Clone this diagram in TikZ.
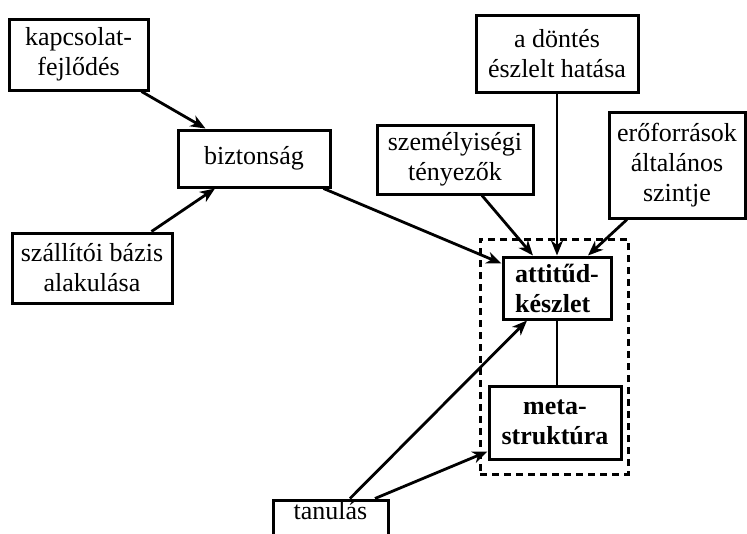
\documentclass[tikz,border=0pt]{standalone}
\usepackage{fontspec}
\setmainfont{Liberation Serif}
\usetikzlibrary{arrows.meta}
\begin{document}
\begin{tikzpicture}[x=1pt,y=-1pt,
  box/.style={draw,line width=3pt,inner sep=0pt,align=center,
    font=\fontsize{26}{30}\selectfont},
  keybox/.style={box,font=\fontsize{26}{30}\selectfont\bfseries},
  arr/.style={line width=2.8pt,-{Stealth[length=15pt,width=12pt,inset=4.5pt]}},
  link/.style={line width=1.3pt},
  group/.style={draw,line width=3pt,dash pattern=on 7pt off 5pt,inner sep=0pt}]
\useasboundingbox (0,0) rectangle (747,533);
\clip (0,0) rectangle (747,533);
% dashed frame around the two core elements
\node[group,minimum width=148pt,minimum height=235pt] (grp) at (554,356.5) {};
% boxes
\node[box,minimum width=139pt,minimum height=71pt] (kap) at (78.5,54.5) {kapcsolat-\\fejlődés};
\node[box,minimum width=152pt,minimum height=57pt] (bizt) at (254,158.5) {biztonság};
\node[box,minimum width=160pt,minimum height=70pt] (szall) at (92,268) {szállítói bázis\\alakulása};
\node[box,minimum width=162pt,minimum height=77pt] (dont) at (557,53.5) {a döntés\\észlelt hatása};
\node[box,minimum width=156pt,minimum height=69pt] (szem) at (455,159.5) {személyiségi\\tényezők};
\node[box,minimum width=136pt,minimum height=106pt] (ero) at (677,165) {erőforrások\\általános\\szintje};
\node[keybox,minimum width=108pt,minimum height=62pt,align=left] (att) at (557,288) {attitűd-\\készlet};
\node[keybox,minimum width=132pt,minimum height=73pt] (meta) at (555,422.5) {meta-\\struktúra};
\node[box,minimum width=115pt,minimum height=50pt,text depth=0pt] (tan) at (330.5,525) {tanulás\\\strut};
% connectors
\draw[arr] ([xshift=-8pt]kap.south east) -- ([xshift=29pt]bizt.north west);
\draw[arr] ([xshift=-22pt]szall.north east) -- ([xshift=-39pt]bizt.south);
\draw[arr] ([xshift=-8pt]bizt.south east) -- ([yshift=-8pt]att.north west);
\draw[arr] ([xshift=27pt]szem.south) -- ([xshift=-24pt]att.north);
\draw[arr] (dont.south) -- (att.north);
\draw[arr] ([xshift=-50pt]ero.south) -- ([xshift=31pt]att.north);
\draw[link] (att.south) -- (att.south |- meta.north);
\draw[arr] ([xshift=19.5pt]tan.north) -- ([xshift=-30pt]att.south);
\draw[arr] ([xshift=44.5pt]tan.north) -- ([yshift=9pt]meta.south west);
\end{tikzpicture}
\end{document}
